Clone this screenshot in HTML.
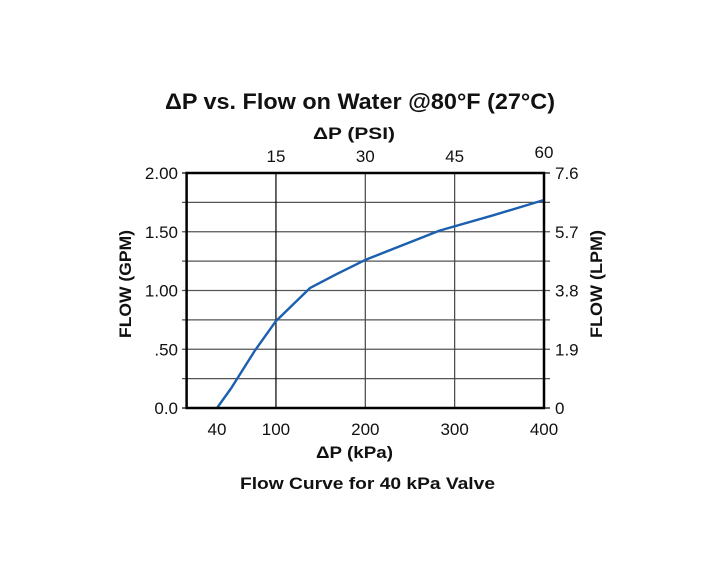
<!DOCTYPE html>
<html><head><meta charset="utf-8"><style>
body{margin:0;background:#fff;}
svg text{font-family:"Liberation Sans",Arial,sans-serif;fill:#111;}
</style></head><body>
<svg width="720" height="580" viewBox="0 0 720 580" xmlns="http://www.w3.org/2000/svg">
<rect width="720" height="580" fill="#fff"/>
<text x="165" y="109" font-size="22" font-weight="bold" textLength="390" lengthAdjust="spacingAndGlyphs">ΔP vs. Flow on Water @80°F (27°C)</text>
<text x="313" y="139" font-size="17" font-weight="bold" textLength="82" lengthAdjust="spacingAndGlyphs">ΔP (PSI)</text>
<text x="316" y="458" font-size="17" font-weight="bold" textLength="77" lengthAdjust="spacingAndGlyphs">ΔP (kPa)</text>
<text x="240" y="489" font-size="17" font-weight="bold" textLength="255" lengthAdjust="spacingAndGlyphs">Flow Curve for 40 kPa Valve</text>
<text transform="translate(131,338) rotate(-90)" font-size="17" font-weight="bold" textLength="108" lengthAdjust="spacingAndGlyphs">FLOW (GPM)</text>
<text transform="translate(602,338) rotate(-90)" font-size="17" font-weight="bold" textLength="108" lengthAdjust="spacingAndGlyphs">FLOW (LPM)</text>
<g id="grid"></g>
<g id="labels"></g>
<path id="curve" fill="none" stroke="#1a5fb0" stroke-width="2.4" stroke-linejoin="round"/>
<rect x="186.6" y="173" width="357.4" height="235" fill="none" stroke="#000" stroke-width="2.5"/>
</svg>
<script>
const kpaValues=[34,50,76.5,100,138,168,200,283,343,400];
const flowValues=[0,0.17,0.49,0.74,1.02,1.14,1.26,1.51,1.64,1.77];
const xTicks=[100,200,300,400];
const xTickLabels=["100","200","300","400"];
const psiLabels=["15","30","45","60"];
const yTicks=[0,0.5,1,1.5,2];
const yTickLabels=["0.0",".50","1.00","1.50","2.00"];
const lpmLabels=["0","1.9","3.8","5.7","7.6"];
const yGrid=[0.25,0.5,0.75,1,1.25,1.5,1.75];
const X0=186.6,X1=544,Y0=408,Y1=173;
const xs=v=>X0+(v-0)/400*(X1-X0);
const ys=v=>Y0-(v-0)/2*(Y0-Y1);
const NS="http://www.w3.org/2000/svg";
const grid=document.getElementById('grid'),labels=document.getElementById('labels');
function ln(x1,y1,x2,y2,c,w,name){const l=document.createElementNS(NS,'line');l.setAttribute('x1',x1);l.setAttribute('y1',y1);l.setAttribute('x2',x2);l.setAttribute('y2',y2);l.setAttribute('stroke',c);l.setAttribute('stroke-width',w);


grid.appendChild(l);}
function tx(x,y,s,anchor,name){const t=document.createElementNS(NS,'text');t.setAttribute('x',x);t.setAttribute('y',y);t.setAttribute('text-anchor',anchor);t.setAttribute('font-size','17');t.textContent=s;


labels.appendChild(t);}
yGrid.forEach(v=>ln(182,ys(v),550,ys(v),'#555',1.2,'h-gridline'));
ln(182,ys(0),186,ys(0),'#000',1.2,'y-tick');ln(182,ys(2),186,ys(2),'#000',1.2,'y-tick');
ln(544,ys(2),550,ys(2),'#000',1.2,'y-tick');ln(544,ys(0),550,ys(0),'#000',1.2,'y-tick');
xTicks.forEach((v,i)=>{if(v<400)ln(xs(v),Y1,xs(v),Y0,i==0?'#000':'#444',1.2,'v-gridline');
tx(xs(v),435,xTickLabels[i],'middle','x-tick-label');
tx(xs(v),i==3?158:162,psiLabels[i],'middle','psi-tick-label');});
tx(217,435,"40",'middle','x-tick-label');
yTicks.forEach((v,i)=>{tx(178,ys(v)+6,yTickLabels[i],'end','y-tick-label');tx(555,ys(v)+6,lpmLabels[i],'start','lpm-tick-label');});
let d='';kpaValues.forEach((k,i)=>{d+=(i?'L':'M')+xs(k).toFixed(1)+','+ys(flowValues[i]).toFixed(1);});
document.getElementById('curve').setAttribute('d',d);
</script>
</body></html>
